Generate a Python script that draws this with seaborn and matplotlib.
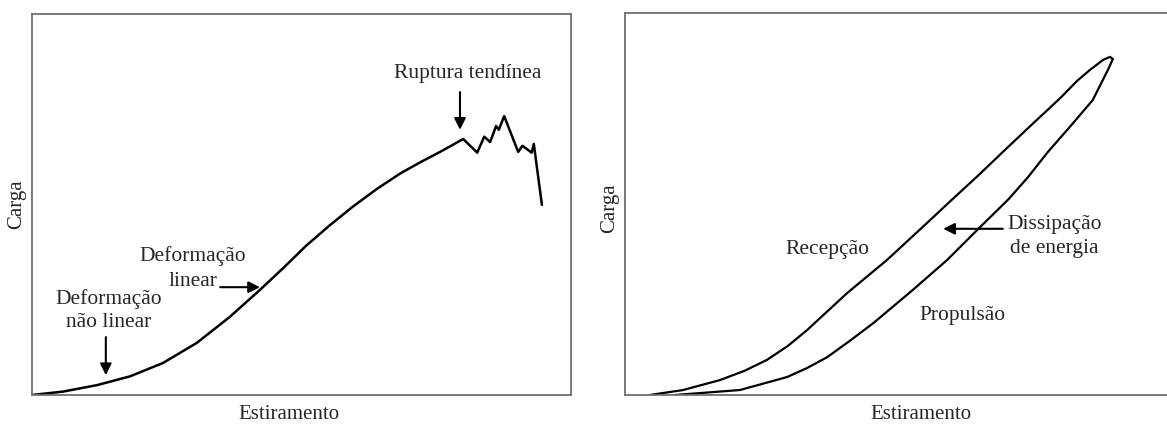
import numpy as np
import pandas as pd
import matplotlib
matplotlib.use('Agg')
import matplotlib.pyplot as plt
import seaborn as sns

# curva carga x estiramento (tendao ate a ruptura)
x_ruptura = [0, 5.8, 12.1, 18.2, 24.3, 30.6, 36.7, 42.3, 46.6, 50.8, 55.3, 59.4,
             64.0, 68.5, 72.2, 75.7, 78.0, 80.0, 82.6, 83.9, 85.0, 86.1, 86.6,
             87.6, 90.2, 91.0, 92.7, 93.1, 94.6]
y_ruptura = [0, 0.9, 2.6, 4.9, 8.4, 13.7, 20.5, 27.6, 33.3, 39.1, 44.6, 49.3,
             54.1, 58.3, 61.2, 63.8, 65.6, 67.2, 63.6, 67.8, 66.4, 70.6, 69.6,
             73.2, 63.8, 65.4, 63.6, 65.9, 49.9]

# histerese: recepcao (subida) e propulsao (descida)
x_recepcao = [4.6, 10.7, 17.5, 22.0, 26.2, 30.0, 33.6, 41.0, 48.3, 55.7, 60.3,
              64.9, 69.7, 75.3, 80.3, 83.4, 85.8, 88.2, 89.5, 90.0]
y_recepcao = [0, 1.3, 3.9, 6.3, 9.2, 12.8, 17.0, 26.7, 35.3, 45.0, 51.1,
              57.1, 63.6, 71.1, 77.7, 82.2, 85.1, 87.7, 88.5, 87.9]
x_propulsao = [90.0, 89.1, 86.3, 82.7, 77.9, 74.4, 70.8, 65.7, 59.4, 53.1,
               45.8, 41.5, 37.3, 33.5, 29.9, 21.2, 9.2]
y_propulsao = [87.9, 85.1, 77.2, 71.2, 63.4, 57.1, 51.3, 44.2, 35.3, 27.5,
               18.8, 14.2, 9.9, 7.0, 4.7, 1.3, 0]

df_rup = pd.DataFrame({'x': x_ruptura, 'y': y_ruptura})
df_rec = pd.DataFrame({'x': x_recepcao, 'y': y_recepcao})
df_pro = pd.DataFrame({'x': x_propulsao, 'y': y_propulsao})

sns.set_theme(style='white')
plt.rcParams['font.family'] = ['Liberation Serif', 'DejaVu Serif']

fig = plt.figure(figsize=(11.67, 4.25), dpi=100)
ax1 = fig.add_axes([0.0274, 0.0706, 0.4619, 0.8965])
ax2 = fig.add_axes([0.5356, 0.0706, 0.4644, 0.899])

fs = 15.5
arrow = dict(arrowstyle='-|>', color='black', lw=1.5, mutation_scale=17,
             shrinkA=0, shrinkB=0)

# painel esquerdo
sns.lineplot(data=df_rup, x='x', y='y', ax=ax1, color='black', lw=1.8,
             sort=False, estimator=None)
ax1.text(80.9, 84.5, 'Ruptura tendínea', ha='center', va='center', fontsize=fs)
ax1.annotate('', xy=(79.4, 69.6), xytext=(79.4, 79.5), arrowprops=arrow)
ax1.text(29.9, 36.5, 'Deformação', ha='center', va='center', fontsize=fs)
ax1.text(29.9, 29.9, 'linear', ha='center', va='center', fontsize=fs)
ax1.annotate('', xy=(42.3, 28.3), xytext=(34.9, 28.3), arrowprops=arrow)
ax1.text(14.3, 25.2, 'Deformação', ha='center', va='center', fontsize=fs)
ax1.text(14.3, 18.9, 'não linear', ha='center', va='center', fontsize=fs)
ax1.annotate('', xy=(13.7, 5.2), xytext=(13.7, 15.2), arrowprops=arrow)

# painel direito
sns.lineplot(data=df_rec, x='x', y='y', ax=ax2, color='black', lw=1.6,
             sort=False, estimator=None)
sns.lineplot(data=df_pro, x='x', y='y', ax=ax2, color='black', lw=1.6,
             sort=False, estimator=None)
ax2.text(37.3, 38.0, 'Recepção', ha='center', va='center', fontsize=fs)
ax2.text(62.2, 20.9, 'Propulsão', ha='center', va='center', fontsize=fs)
ax2.text(79.2, 44.6, 'Dissipação', ha='center', va='center', fontsize=fs)
ax2.text(79.2, 38.4, 'de energia', ha='center', va='center', fontsize=fs)
ax2.annotate('', xy=(58.7, 43.5), xytext=(69.7, 43.5), arrowprops=arrow)

for ax in (ax1, ax2):
    ax.set_xlim(0, 100)
    ax.set_ylim(0, 100)
    ax.set_xticks([])
    ax.set_yticks([])
    ax.set_xlabel('Estiramento', fontsize=15, va='center')
    ax.set_ylabel('Carga', fontsize=15, va='center')
    for s in ax.spines.values():
        s.set_color('#707070')
        s.set_linewidth(1.3)

ax2.spines['right'].set_visible(False)
ax1.xaxis.set_label_coords(0.476, -0.0525)
ax1.yaxis.set_label_coords(-0.028, 0.5)
ax2.xaxis.set_label_coords(0.546, -0.052)
ax2.yaxis.set_label_coords(-0.028, 0.49)

fig.savefig('out.png', dpi=100)
